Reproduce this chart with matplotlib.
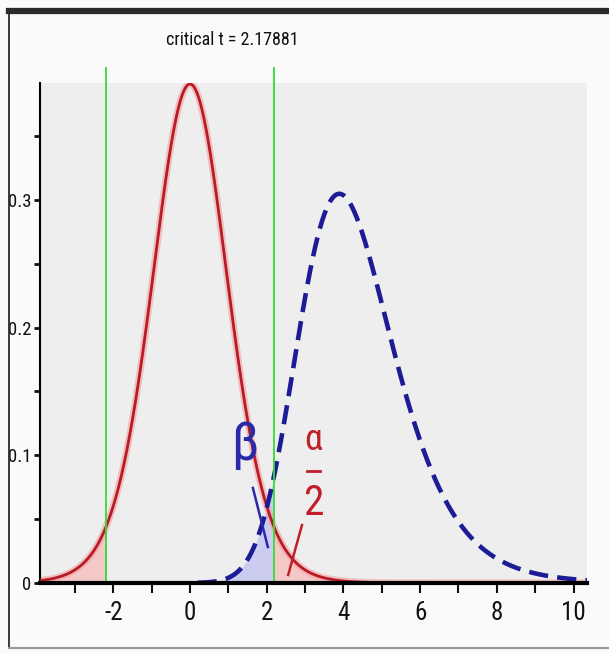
import math
import numpy as np
import matplotlib
matplotlib.use("Agg")
import matplotlib.pyplot as plt
from matplotlib.lines import Line2D
from matplotlib import font_manager

# ---- data / parameters ----
df = 12                     # degrees of freedom
critical_t = 2.17881        # two-sided critical value (alpha = 0.05)
noncentrality = 4.1         # shift of the alternative (blue) distribution
x_range = [-3.91, 10.35]
y_top = 0.3915
x_ticks = [-2, 0, 2, 4, 6, 8, 10]
x_minor = [-3, -1, 1, 3, 5, 7, 9]
y_ticks = [0, 0.1, 0.2, 0.3]
y_tick_labels = ["0", "0.1", "0.2", "0.3"]
y_minor = [0.05, 0.15, 0.25, 0.35]
title_text = "critical t = 2.17881"


def t_pdf(t, nu):
    c = math.exp(math.lgamma((nu + 1) / 2) - math.lgamma(nu / 2)) / math.sqrt(nu * math.pi)
    return c * (1 + t ** 2 / nu) ** (-(nu + 1) / 2)


def nct_pdf(t, nu, delta):
    v = np.linspace(1e-6, 80, 8000)
    logchi = (nu / 2 - 1) * np.log(v) - v / 2 - (nu / 2) * math.log(2) - math.lgamma(nu / 2)
    chi = np.exp(logchi)
    t = np.atleast_1d(t)[:, None]
    s = np.sqrt(v / nu)[None, :]
    z = t * s - delta
    phi = np.exp(-z ** 2 / 2) / math.sqrt(2 * math.pi)
    return np.trapezoid(phi * s * chi[None, :], v, axis=1)


x = np.linspace(x_range[0], x_range[1], 1200)
y_null = t_pdf(x, df)
x_alt = np.linspace(0.2, x_range[1], 900)
y_alt = nct_pdf(x_alt, df, noncentrality)

# pick a narrow font if one is installed
_names = {f.name for f in font_manager.fontManager.ttflist}
_cands = ["Liberation Sans Narrow", "DejaVu Sans Condensed", "Roboto Condensed",
          "Open Sans Condensed", "Noto Sans Condensed"]
NARROW = [n for n in _cands if n in _names] + ["DejaVu Sans"]
FONT = dict(family=NARROW, stretch="condensed")

W, H, DPI = 609, 654, 100
fig = plt.figure(figsize=(W / DPI, H / DPI), dpi=DPI, facecolor="#fafafa")

# outer frame
fig.add_artist(Line2D([9 / W, 1.0], [1 - 11 / H, 1 - 11 / H], transform=fig.transFigure,
                      color="#2a2a2a", lw=4.5))
fig.add_artist(Line2D([9 / W, 9 / W], [1 - 11 / H, 1 - 648 / H], transform=fig.transFigure,
                      color="#2a2a2a", lw=1.3))
fig.add_artist(Line2D([9 / W, 1.0], [1 - 648 / H, 1 - 648 / H], transform=fig.transFigure,
                      color="#9a9a9a", lw=1.5))

ax = fig.add_axes([40 / W, 1 - 583 / H, 547 / W, 500 / H])
ax.set_facecolor("#eeeeee")
ax.set_xlim(*x_range)
ax.set_ylim(0, y_top)

# red tail shading
left = x <= -critical_t
right = x >= critical_t
ax.fill_between(x[left], 0, y_null[left], color="#f6c4c4", alpha=0.9, lw=0, zorder=1)
ax.fill_between(x[right], 0, y_null[right], color="#f6c4c4", alpha=0.9, lw=0, zorder=1)
# beta area
beta = x_alt <= critical_t
ax.fill_between(x_alt[beta], 0, y_alt[beta], color="#c9c9f2", alpha=0.9, lw=0, zorder=1)

# red null curve (with soft halo)
ax.plot(x, y_null, color="#f2a0a0", lw=5, alpha=0.6, zorder=2, solid_capstyle="round")
ax.plot(x, y_null, color="#b81a26", lw=2, zorder=3)

# blue alternative curve
ax.plot(x_alt, y_alt, color="#1c1c96", lw=3.3, dashes=(4.2, 2.0), zorder=3)

# green critical lines
for c in (-critical_t, critical_t):
    ax.plot([c, c], [0, 0.403], color="#33dd33", lw=1.3, zorder=4, clip_on=False)

# annotations
ax.text(1.42, 0.108, "β", color="#2a2aa8", fontsize=38, ha="center", va="center",
        zorder=5, **FONT)
ax.plot([1.64, 2.03], [0.0744, 0.0282], color="#2a2aa8", lw=1.8, zorder=5)
ax.text(3.21, 0.112, "α", color="#c0202a", fontsize=26, ha="center", va="center",
        zorder=5, **FONT)
ax.plot([3.04, 3.38], [0.088, 0.088], color="#c0202a", lw=2.0, zorder=5)
ax.text(3.21, 0.0626, "2", color="#c0202a", fontsize=30, ha="center", va="center",
        zorder=5, **FONT)
ax.plot([2.92, 2.56], [0.0454, 0.0063], color="#c0202a", lw=1.8, zorder=5)

# spines
for s in ("top", "right"):
    ax.spines[s].set_visible(False)
ax.spines["left"].set_linewidth(1.5)
ax.spines["bottom"].set_linewidth(3.0)
ax.spines["bottom"].set_zorder(6)

ax.set_xticks(x_ticks)
ax.set_xticklabels([str(v) for v in x_ticks], fontsize=18, **FONT)
ax.set_xticks(x_minor, minor=True)
ax.set_yticks(y_ticks)
ax.set_yticklabels(y_tick_labels, fontsize=13.5, **FONT)
ax.set_yticks(y_minor, minor=True)
ax.tick_params(axis="x", which="both", direction="out", length=7, width=1.5, pad=6, colors="#111111")
ax.tick_params(axis="y", which="both", direction="out", length=4, width=2.0, pad=2, colors="#111111")

fig.text(232 / W, 1 - 40 / H, title_text, fontsize=13, ha="center", va="center",
         color="#111111", **FONT)

fig.savefig("out.png", dpi=DPI, facecolor=fig.get_facecolor())
